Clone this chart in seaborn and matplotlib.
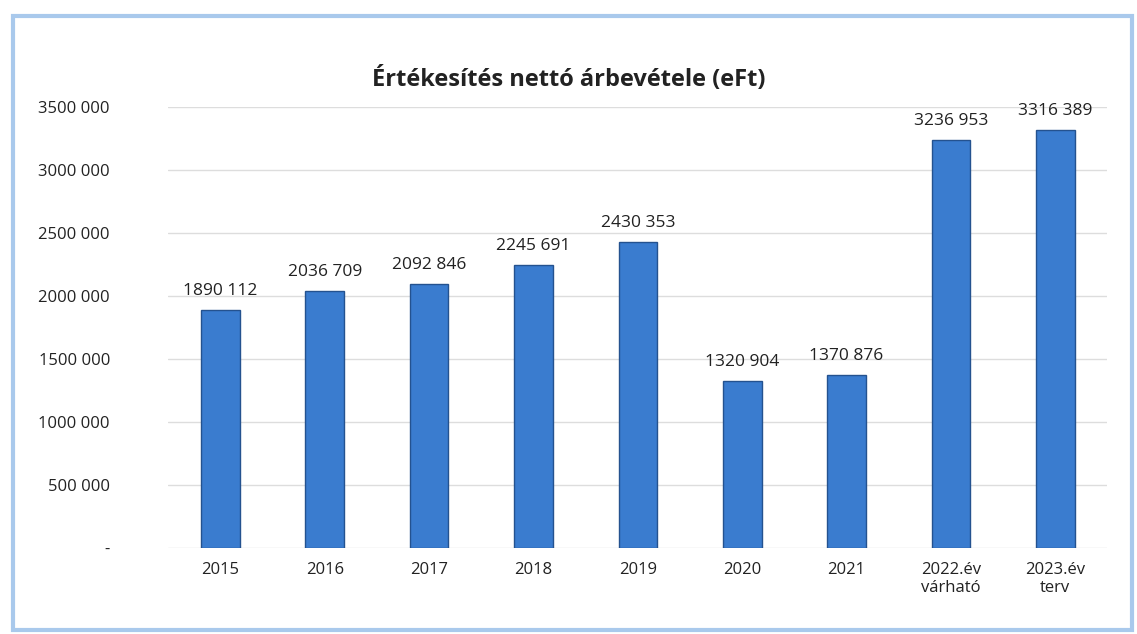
import pandas as pd
import matplotlib.pyplot as plt
import seaborn as sns
from matplotlib.patches import Rectangle

# Chart data
categories = ['2015', '2016', '2017', '2018', '2019', '2020', '2021',
              '2022.év\nvárható', '2023.év\nterv']
revenue = [1890112, 2036709, 2092846, 2245691, 2430353,
           1320904, 1370876, 3236953, 3316389]
yticks = [0, 500000, 1000000, 1500000, 2000000, 2500000, 3000000, 3500000]
ytick_labels = ['-', '500 000', '1000 000', '1500 000', '2000 000',
                '2500 000', '3000 000', '3500 000']

df = pd.DataFrame({'year': categories, 'value': revenue})

sns.set_style('white')
plt.rcParams['font.family'] = ['Open Sans', 'DejaVu Sans']

fig = plt.figure(figsize=(11.37, 6.34), dpi=100)
ax = fig.add_axes([0.148, 0.136, 0.826, 0.695])

sns.barplot(data=df, x='year', y='value', ax=ax, color='#3a7ccf',
            width=0.37, edgecolor='#24528f', linewidth=1.0, saturation=1)

# value labels, Hungarian style "1890 112"
labels = []
for v in revenue:
    s = f'{v:,}'.replace(',', ' ')
    if v >= 1000000:
        s = s.replace(' ', '', 1)
    labels.append(s)
ax.bar_label(ax.containers[0], labels=labels, padding=8, fontsize=12.5, color='#222222')

ax.set_ylim(0, 3500000)
ax.set_yticks(yticks)
ax.set_yticklabels(ytick_labels, fontsize=12, color='#222222')
ax.tick_params(axis='x', labelsize=12, colors='#222222', length=0, pad=10)
ax.tick_params(axis='y', length=0, pad=42)
ax.set_xlabel('')
ax.set_ylabel('')
ax.grid(axis='y', color='#dddddd', linewidth=1)
ax.set_axisbelow(True)
sns.despine(ax=ax, left=True, bottom=True)

fig.text(0.5, 0.865, 'Értékesítés nettó árbevétele (eFt)', ha='center',
         fontsize=17, fontweight='bold', color='#222222')

# light blue frame around the chart
fig.patches.append(Rectangle((0.011, 0.006), 0.985, 0.968, transform=fig.transFigure,
                             fill=False, edgecolor='#a9c9ec', linewidth=3))

plt.savefig('out.png', dpi=100)
